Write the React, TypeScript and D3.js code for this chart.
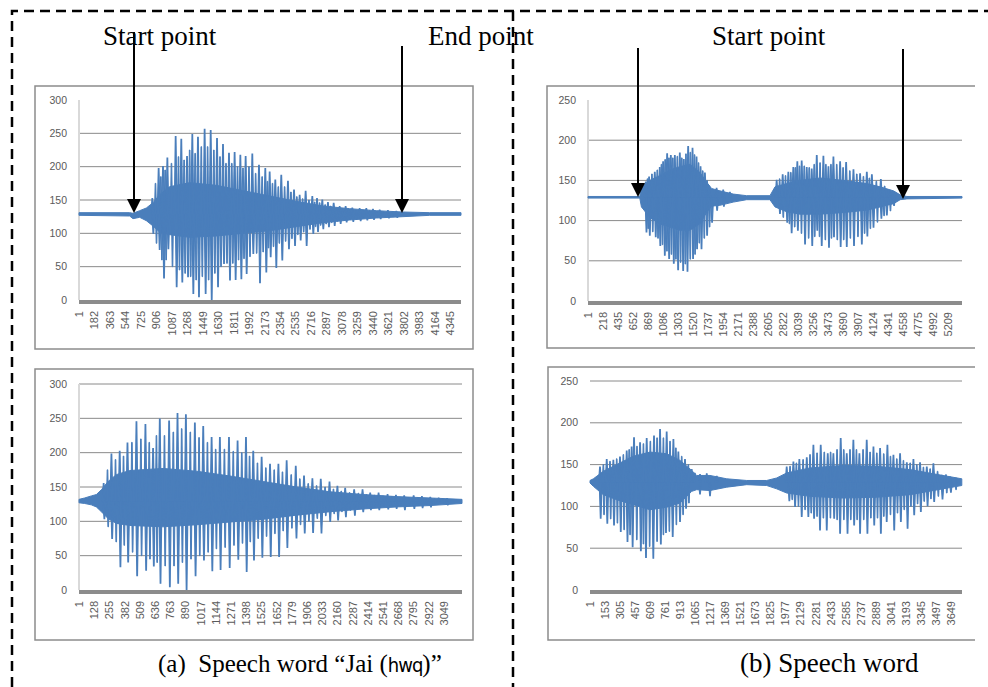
import React, { useRef, useEffect } from "react";
import * as d3 from "d3";

// waveform values: [sample, value]
const BASE = 129;

const p1Count = 4470;
const p1Ticks = [1, 182, 363, 544, 725, 906, 1087, 1268, 1449, 1630, 1811, 1992, 2173, 2354, 2535, 2716, 2897, 3078, 3259, 3440, 3621, 3802, 3983, 4164, 4345];
const p1Envelope = [[0, 131, 127], [593, 131, 126], [632, 130, 122], [710, 134, 124], [788, 138, 119], [866, 146, 111], [944, 158, 102], [1061, 170, 98], [1295, 176, 94], [1607, 172, 96], [1919, 164, 100], [2231, 156, 104], [2543, 148, 110], [2855, 141, 116], [3167, 137, 120], [3479, 134, 123], [3791, 132, 125], [4103, 131, 127], [4470, 131, 127]];
const p1Peaks = [[858, 152], [932, 197], [983, 200], [1034, 213], [1131, 245], [1197, 241], [1264, 215], [1326, 248], [1392, 244], [1470, 256], [1541, 254], [1615, 242], [1685, 233], [1755, 220], [1821, 221], [1888, 217], [1950, 215], [2028, 219], [2106, 202], [2180, 197], [2231, 192], [2297, 180], [2367, 187], [2445, 178], [2516, 165], [2582, 157], [2652, 163], [2730, 155], [2785, 152], [2847, 150], [2913, 146], [2980, 145], [3050, 140], [3120, 140], [3198, 138], [3284, 137], [3362, 137], [3440, 136], [3518, 135], [3615, 134], [3713, 133]];
const p1Troughs = [[870, 100], [944, 76], [995, 33], [1046, 77], [1143, 20], [1209, 27], [1276, 35], [1338, 10], [1404, 5], [1482, 10], [1553, 0], [1627, 20], [1697, 55], [1767, 30], [1833, 31], [1900, 32], [1962, 40], [2040, 70], [2118, 26], [2192, 42], [2243, 65], [2309, 49], [2379, 60], [2457, 77], [2528, 82], [2594, 90], [2664, 82], [2742, 100], [2797, 103], [2859, 107], [2925, 110], [2992, 112], [3062, 115], [3132, 117], [3210, 118], [3296, 119], [3374, 120], [3452, 121], [3530, 122], [3627, 123], [3725, 124]];
const p1MinorPeaks = [[895, 175], [958, 185], [1008, 195], [1082, 205], [1164, 215], [1230, 210], [1295, 225], [1359, 220], [1431, 230], [1505, 230], [1578, 225], [1650, 215], [1720, 205], [1788, 205], [1855, 200], [1919, 198], [1989, 200], [2067, 190], [2143, 185], [2205, 178], [2264, 175], [2332, 170], [2406, 170], [2480, 162], [2549, 155], [2617, 152], [2691, 150], [2757, 147], [2816, 146], [2880, 143], [2946, 141], [3015, 138], [3085, 137], [3159, 136], [3241, 135], [3323, 134], [3401, 134], [3479, 133], [3566, 132], [3664, 132]];
const p1MinorTroughs = [[907, 85], [970, 60], [1020, 60], [1094, 50], [1176, 45], [1242, 40], [1307, 35], [1371, 30], [1443, 35], [1517, 30], [1590, 40], [1662, 50], [1732, 55], [1800, 55], [1867, 60], [1931, 62], [2001, 65], [2079, 70], [2155, 72], [2217, 78], [2276, 80], [2344, 85], [2418, 88], [2492, 92], [2561, 98], [2629, 102], [2703, 106], [2769, 110], [2828, 112], [2892, 114], [2958, 116], [3027, 118], [3097, 120], [3171, 121], [3253, 122], [3335, 123], [3413, 124], [3491, 124], [3578, 125], [3676, 125]];

const p2Count = 3200;
const p2Ticks = [1, 128, 255, 382, 509, 636, 763, 890, 1017, 1144, 1271, 1398, 1525, 1652, 1779, 1906, 2033, 2160, 2287, 2414, 2541, 2668, 2795, 2922, 3049];
const p2Envelope = [[0, 132, 127], [47, 134, 126], [103, 137, 124], [145, 139, 121], [187, 146, 114], [243, 158, 104], [312, 168, 97], [424, 174, 94], [703, 177, 92], [982, 173, 95], [1261, 166, 99], [1540, 158, 103], [1819, 150, 109], [2098, 143, 114], [2377, 139, 118], [2656, 136, 121], [2935, 134, 123], [3200, 132, 126]];
const p2Peaks = [[206, 155], [271, 198], [340, 202], [405, 214], [480, 245], [555, 241], [619, 206], [675, 249], [753, 246], [823, 257], [893, 255], [968, 243], [1038, 238], [1108, 222], [1177, 222], [1253, 222], [1325, 217], [1395, 222], [1456, 202], [1526, 193], [1596, 183], [1666, 183], [1735, 188], [1811, 180], [1880, 166], [1950, 162], [2020, 161], [2093, 157], [2159, 151], [2224, 148], [2299, 146], [2369, 146], [2433, 141], [2503, 141], [2578, 139], [2648, 138], [2717, 137], [2796, 137], [2865, 136], [2935, 135], [3005, 134], [3075, 133]];
const p2Troughs = [[212, 104], [277, 75], [346, 34], [411, 41], [486, 21], [561, 29], [625, 35], [681, 10], [759, 5], [829, 10], [899, 0], [974, 21], [1044, 44], [1114, 28], [1183, 30], [1259, 33], [1331, 45], [1401, 27], [1462, 44], [1532, 48], [1602, 49], [1672, 49], [1741, 62], [1817, 76], [1886, 83], [1956, 84], [2026, 83], [2099, 100], [2165, 102], [2230, 107], [2305, 109], [2375, 114], [2439, 117], [2509, 117], [2584, 118], [2654, 119], [2723, 117], [2802, 119], [2871, 120], [2941, 121], [3081, 124]];
const p2MinorPeaks = [[238, 175], [305, 190], [372, 195], [442, 215], [517, 220], [587, 215], [647, 225], [714, 225], [788, 230], [858, 235], [930, 230], [1003, 222], [1073, 215], [1142, 205], [1215, 205], [1289, 202], [1360, 200], [1425, 195], [1491, 185], [1561, 178], [1631, 175], [1700, 172], [1773, 168], [1845, 162], [1915, 155], [1985, 152], [2056, 150], [2126, 147], [2191, 144], [2261, 142], [2334, 141], [2401, 139], [2468, 138], [2540, 137], [2613, 136], [2682, 135], [2756, 134], [2830, 134], [2900, 133], [2970, 133], [3040, 132]];
const p2MinorTroughs = [[244, 92], [311, 70], [378, 65], [448, 55], [523, 50], [593, 45], [653, 40], [720, 35], [794, 35], [864, 40], [936, 45], [1009, 50], [1079, 55], [1148, 60], [1221, 62], [1295, 65], [1366, 68], [1431, 70], [1497, 75], [1567, 78], [1637, 82], [1706, 86], [1779, 90], [1851, 95], [1921, 100], [1991, 104], [2062, 108], [2132, 111], [2197, 114], [2267, 116], [2340, 118], [2407, 120], [2474, 121], [2546, 122], [2619, 123], [2688, 123], [2762, 124], [2836, 124], [2906, 125], [2976, 125], [3046, 126]];

const p3Count = 5410;
const p3Ticks = [1, 218, 435, 652, 869, 1086, 1303, 1520, 1737, 1954, 2171, 2388, 2605, 2822, 3039, 3256, 3473, 3690, 3907, 4124, 4341, 4558, 4775, 4992, 5209];
const p3Envelope = [[0, 130, 128], [749, 130, 128], [773, 142, 117], [894, 150, 104], [1038, 156, 96], [1183, 163, 92], [1328, 167, 88], [1473, 170, 88], [1618, 160, 96], [1715, 148, 110], [1787, 140, 118], [1908, 137, 119], [2101, 133, 123], [2294, 131, 126], [2632, 131, 126], [2705, 142, 117], [2874, 146, 111], [3067, 150, 108], [3357, 153, 108], [3695, 150, 110], [4033, 146, 113], [4226, 142, 117], [4419, 137, 121], [4516, 132, 126], [4613, 130, 127], [5410, 130, 128]];
const p3Peaks = [[836, 148], [884, 154], [966, 160], [1038, 166], [1087, 173], [1145, 183], [1198, 181], [1256, 181], [1328, 184], [1386, 176], [1449, 192], [1512, 190], [1570, 179], [1628, 167], [1691, 159], [1753, 143], [1860, 140], [1956, 138], [2053, 135], [2729, 150], [2816, 157], [2898, 160], [2970, 166], [3028, 173], [3091, 174], [3164, 166], [3236, 164], [3309, 181], [3405, 180], [3478, 167], [3550, 179], [3647, 173], [3734, 172], [3840, 163], [3936, 158], [4033, 160], [4106, 157], [4236, 151], [4347, 138], [4419, 136]];
const p3Troughs = [[846, 86], [894, 82], [980, 80], [1046, 69], [1111, 57], [1174, 53], [1241, 47], [1304, 39], [1377, 38], [1439, 37], [1520, 53], [1578, 65], [1642, 65], [1723, 82], [1795, 98], [1868, 113], [1966, 118], [2777, 109], [2882, 98], [2946, 85], [3036, 88], [3140, 71], [3244, 69], [3317, 88], [3381, 69], [3486, 67], [3558, 80], [3655, 68], [3743, 68], [3848, 69], [3961, 71], [4041, 81], [4130, 92], [4244, 103], [4323, 107], [4427, 119]];
const p3MinorPeaks = [[860, 152], [925, 158], [1002, 163], [1062, 170], [1116, 176], [1171, 178], [1227, 178], [1292, 180], [1357, 178], [1417, 183], [1480, 185], [1541, 182], [1599, 172], [1660, 162], [1722, 150], [2772, 152], [2857, 156], [2934, 160], [2999, 166], [3060, 168], [3128, 168], [3200, 166], [3272, 170], [3357, 172], [3441, 170], [3514, 170], [3598, 170], [3690, 166], [3787, 162], [3888, 158], [3984, 155], [4070, 153], [4171, 149], [4291, 143], [4383, 136]];
const p3MinorTroughs = [[870, 90], [937, 86], [1013, 78], [1078, 70], [1142, 62], [1207, 58], [1272, 52], [1340, 48], [1408, 46], [1479, 52], [1549, 58], [1610, 72], [1682, 78], [1759, 92], [2825, 104], [2914, 96], [2990, 92], [3088, 84], [3192, 78], [3280, 80], [3349, 80], [3433, 76], [3522, 78], [3606, 76], [3699, 76], [3795, 78], [3905, 80], [4001, 84], [4085, 90], [4187, 98], [4283, 106], [4375, 112]];

const p4Count = 3760;
const p4Ticks = [1, 153, 305, 457, 609, 761, 913, 1065, 1217, 1369, 1521, 1673, 1825, 1977, 2129, 2281, 2433, 2585, 2737, 2889, 3041, 3193, 3345, 3497, 3649];
const p4Envelope = [[0, 131, 128], [34, 133, 124], [135, 142, 114], [270, 150, 108], [438, 160, 102], [607, 165, 96], [775, 163, 99], [910, 155, 104], [1028, 143, 118], [1078, 137, 120], [1213, 137, 119], [1382, 133, 123], [1584, 131, 126], [1786, 131, 125], [1887, 134, 121], [1988, 140, 116], [2224, 146, 112], [2561, 149, 110], [2898, 148, 111], [3235, 144, 114], [3471, 139, 119], [3758, 133, 125]];
const p4Peaks = [[101, 147], [169, 156], [236, 155], [303, 159], [371, 166], [421, 171], [445, 182], [506, 176], [573, 181], [647, 184], [708, 192], [775, 189], [843, 180], [893, 165], [960, 156], [1028, 144], [1112, 138], [1180, 139], [1281, 136], [1988, 147], [2056, 153], [2116, 156], [2191, 158], [2258, 173], [2332, 173], [2403, 163], [2460, 163], [2534, 181], [2595, 163], [2662, 179], [2723, 163], [2797, 179], [2865, 171], [2932, 169], [3006, 173], [3067, 161], [3134, 163], [3202, 152], [3269, 156], [3336, 152], [3404, 147], [3471, 151], [3555, 137], [3640, 135]];
const p4Troughs = [[108, 86], [175, 80], [243, 78], [311, 70], [379, 58], [431, 52], [514, 47], [566, 39], [640, 38], [716, 55], [768, 69], [836, 64], [910, 82], [971, 98], [1112, 115], [1213, 113], [2015, 107], [2073, 100], [2140, 88], [2207, 88], [2265, 86], [2325, 72], [2393, 72], [2468, 86], [2528, 68], [2603, 68], [2670, 78], [2730, 68], [2804, 68], [2873, 78], [2940, 68], [2999, 82], [3075, 72], [3142, 82], [3210, 74], [3277, 90], [3344, 94], [3412, 101], [3479, 106], [3563, 109], [3648, 117]];
const p4MinorPeaks = [[135, 150], [202, 154], [270, 157], [337, 162], [396, 168], [475, 172], [540, 175], [610, 178], [678, 182], [742, 182], [809, 178], [868, 170], [927, 160], [994, 150], [1060, 140], [2022, 148], [2086, 152], [2154, 156], [2224, 162], [2295, 164], [2368, 165], [2432, 165], [2497, 168], [2565, 168], [2628, 168], [2693, 168], [2760, 168], [2831, 165], [2899, 164], [2969, 163], [3037, 160], [3101, 157], [3168, 155], [3236, 152], [3303, 150], [3370, 147], [3438, 145], [3513, 142], [3598, 138], [3700, 134]];
const p4MinorTroughs = [[142, 90], [209, 85], [277, 80], [345, 72], [405, 66], [473, 60], [540, 55], [603, 52], [678, 58], [742, 66], [802, 70], [873, 78], [941, 90], [1000, 104], [2044, 108], [2107, 100], [2174, 96], [2236, 92], [2295, 88], [2359, 86], [2430, 86], [2498, 84], [2566, 84], [2636, 84], [2700, 84], [2767, 84], [2839, 86], [2906, 86], [2970, 88], [3037, 90], [3108, 92], [3176, 96], [3244, 100], [3311, 103], [3378, 106], [3446, 109], [3521, 112], [3606, 116], [3700, 120]];

const yTicksA = [0, 50, 100, 150, 200, 250, 300];
const yTicksB = [0, 50, 100, 150, 200, 250];

const BLUE = "#4a7ebb";
const GRID = "#8a8a8a";
const LABEL = "#5a5a5a";
const SERIF = "'Liberation Serif', 'Times New Roman', serif";
const SANS = "'Liberation Sans', Arial, sans-serif";

const panels = [
  { box: [35, 86, 473, 349], sides: "all", plot: [79, 461, 100, 300], yMax: 300, yTicks: yTicksA, topGrid: false, vAxis: true, count: p1Count, ticks: p1Ticks, env: p1Envelope, spikes: [p1Peaks, p1Troughs], minor: [p1MinorPeaks, p1MinorTroughs] },
  { box: [35, 369, 473, 640], sides: "all", plot: [79, 462, 384, 590], yMax: 300, yTicks: yTicksA, topGrid: true, vAxis: true, count: p2Count, ticks: p2Ticks, env: p2Envelope, spikes: [p2Peaks, p2Troughs], minor: [p2MinorPeaks, p2MinorTroughs] },
  { box: [547, 86, 975, 348], sides: "open", plot: [588, 962, 100, 301], yMax: 250, yTicks: yTicksB, topGrid: false, vAxis: true, count: p3Count, ticks: p3Ticks, env: p3Envelope, spikes: [p3Peaks, p3Troughs], minor: [p3MinorPeaks, p3MinorTroughs] },
  { box: [548, 367, 975, 640], sides: "open", plot: [590, 962, 381, 590], yMax: 250, yTicks: yTicksB, topGrid: true, vAxis: false, count: p4Count, ticks: p4Ticks, env: p4Envelope, spikes: [p4Peaks, p4Troughs], minor: [p4MinorPeaks, p4MinorTroughs] },
];

const arrows = [
  { x: 134, y1: 32, y2: 213 },
  { x: 402, y1: 46, y2: 213 },
  { x: 638, y1: 48, y2: 197 },
  { x: 903, y1: 49, y2: 199 },
];

const App = () => {
  const ref = useRef(null);

  useEffect(() => {
    const svg = d3.select(ref.current);
    svg.selectAll("*").remove();

    panels.forEach((p) => {
      const [bx0, by0, bx1, by1] = p.box;
      const [left, right, top, bottom] = p.plot;
      const g = svg.append("g");

      // chart frame
      if (p.sides === "all") {
        g.append("rect").attr("x", bx0).attr("y", by0).attr("width", bx1 - bx0).attr("height", by1 - by0)
          .attr("fill", "white").attr("stroke", "#8c8c8c").attr("stroke-width", 1.5);
      } else {
        g.append("path").attr("d", `M${bx1},${by0}H${bx0}V${by1}H${bx1}`)
          .attr("fill", "none").attr("stroke", "#8c8c8c").attr("stroke-width", 1.5);
      }

      const x = d3.scaleLinear().domain([0, p.count]).range([left, right]);
      const y = d3.scaleLinear().domain([0, p.yMax]).range([bottom, top]);

      // gridlines
      g.selectAll(".grid").data(p.yTicks.filter((t) => t > 0 && (p.topGrid || t < p.yMax))).enter()
        .append("line")
        .attr("x1", left).attr("x2", right)
        .attr("y1", (d) => y(d)).attr("y2", (d) => y(d))
        .attr("stroke", GRID).attr("stroke-width", 1);

      if (p.vAxis) {
        g.append("line").attr("x1", left).attr("x2", left).attr("y1", y(p.yMax)).attr("y2", bottom)
          .attr("stroke", "#d9d9d9").attr("stroke-width", 2);
      }

      // y labels
      g.selectAll(".ylab").data(p.yTicks).enter().append("text")
        .attr("x", left - 12).attr("y", (d) => y(d)).attr("dy", "0.35em")
        .attr("text-anchor", "end").attr("font-family", SANS).attr("font-size", "10.5px")
        .attr("fill", LABEL).text((d) => d);

      // waveform: dense body as envelope area, pulses as spikes
      const area = d3.area().x((d) => x(d[0])).y0((d) => y(d[2])).y1((d) => y(d[1]));
      g.append("path").attr("d", area(p.env)).attr("fill", BLUE).attr("stroke", BLUE).attr("stroke-width", 1);

      const perPx = 1 / (x(1) - x(0));
      const line = d3.line();
      const spikeOf = (hw) => (d) => line([
        [x(d[0] - hw * perPx), y(BASE)],
        [x(d[0] - 0.3 * perPx), y(d[1])],
        [x(d[0] + 0.3 * perPx), y(d[1])],
        [x(d[0] + hw * perPx), y(BASE)],
      ]);
      p.minor.forEach((arr) => {
        g.append("g").selectAll("path").data(arr).enter().append("path").attr("d", spikeOf(1.0))
          .attr("fill", BLUE).attr("stroke", BLUE).attr("stroke-width", 1).attr("stroke-linejoin", "miter");
      });
      p.spikes.forEach((arr) => {
        g.append("g").selectAll("path").data(arr).enter().append("path").attr("d", spikeOf(1.4))
          .attr("fill", BLUE).attr("stroke", BLUE).attr("stroke-width", 1.2).attr("stroke-linejoin", "miter");
      });

      // x axis band
      g.append("rect").attr("x", left).attr("y", bottom).attr("width", right - left).attr("height", 4)
        .attr("fill", "#8c8c8c");

      // x labels, rotated
      g.selectAll(".xlab").data(p.ticks).enter().append("text")
        .attr("transform", (d) => `translate(${x(d)},${bottom + 11}) rotate(-90)`)
        .attr("text-anchor", "end").attr("dy", "0.35em")
        .attr("font-family", SANS).attr("font-size", "11px").attr("fill", LABEL).text((d) => d);
    });

    // dashed frame
    svg.append("path").attr("d", "M12,687V11H988").attr("fill", "none")
      .attr("stroke", "black").attr("stroke-width", 2.5).attr("stroke-dasharray", "10 6");
    svg.append("line").attr("x1", 513).attr("x2", 513).attr("y1", 11).attr("y2", 687)
      .attr("stroke", "black").attr("stroke-width", 2.5).attr("stroke-dasharray", "10 6");

    // arrows
    arrows.forEach((a) => {
      svg.append("line").attr("x1", a.x).attr("x2", a.x).attr("y1", a.y1).attr("y2", a.y2 - 12)
        .attr("stroke", "black").attr("stroke-width", 2);
      svg.append("path").attr("d", `M${a.x - 7},${a.y2 - 14}L${a.x + 7},${a.y2 - 14}L${a.x},${a.y2}Z`)
        .attr("fill", "black");
    });

    const labels = [
      { x: 103, y: 45, t: "Start point" },
      { x: 428, y: 45, t: "End point" },
      { x: 712, y: 45, t: "Start point" },
      { x: 740, y: 672, t: "(b) Speech word" },
    ];
    labels.forEach((l) => {
      svg.append("text").attr("x", l.x).attr("y", l.y).attr("font-family", SERIF)
        .attr("font-size", "27px").attr("fill", "black").text(l.t);
    });

    // caption (a): the Thai word is set in a narrow legacy face
    const cap = svg.append("text").attr("x", 158).attr("y", 672).attr("font-family", SERIF)
      .attr("font-size", "25px").attr("fill", "black");
    cap.append("tspan").text("(a)\u00a0 Speech word \u201cJai (");
    cap.append("tspan").attr("font-family", "'DejaVu Sans Condensed', 'Liberation Sans', sans-serif")
      .attr("font-size", "20px").attr("letter-spacing", "-1").text("hwq");
    cap.append("tspan").text(")\u201d");
  }, []);

  return (
    <div style={{ position: "absolute", left: 0, top: 0 }}>
      <svg ref={ref} width={988} height={687} style={{ display: "block", background: "white" }} />
    </div>
  );
};

export default App;
